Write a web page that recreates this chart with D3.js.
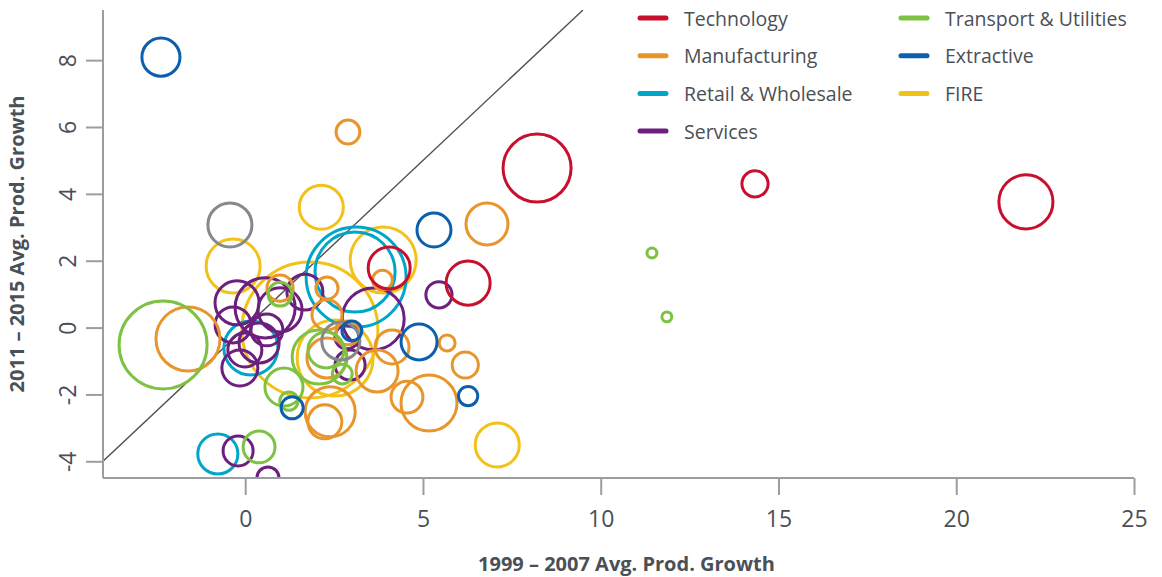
<!DOCTYPE html>
<html>
<head>
<meta charset="utf-8">
<title>Productivity growth by sector</title>
<script src="https://cdn.jsdelivr.net/npm/d3@7/dist/d3.min.js"></script>
<style>
  body { margin: 0; background: #fff; }
  svg { display: block; font-family: "Open Sans", Lato, sans-serif; }
  .tick text { fill: #4b4f56; }
</style>
</head>
<body>
<script>
// each entry: [1999-2007 growth, 2011-2015 growth, weight]
var technology = [[8.21, 4.77, 23.6], [14.34, 4.30, 3.5], [21.96, 3.76, 14.9], [6.27, 1.33, 9.9], [4.05, 1.78, 9.0]];
var manufacturing = [[2.89, 5.85, 2.9], [6.80, 3.10, 9.0], [-1.61, -0.34, 20.9], [3.86, 1.42, 2.0], [5.68, -0.46, 1.3],
  [6.19, -1.12, 3.5], [5.17, -2.26, 16.0], [4.55, -2.08, 5.2], [4.13, -0.58, 5.9], [3.71, -1.30, 9.0],
  [2.30, -0.91, 8.2], [2.39, -2.52, 12.8], [2.24, -2.82, 5.9], [0.98, 1.18, 3.5], [2.30, 1.18, 2.5],
  [2.30, 0.38, 4.6], [2.89, -0.16, 2.9]];
var retail = [[3.12, 1.51, 51.0], [3.09, 1.66, 32.7], [0.16, -0.61, 14.9], [-0.77, -3.78, 8.2]];
var services = [[-0.20, -3.69, 4.6], [0.64, -4.50, 2.5], [5.45, 0.98, 3.5], [3.60, 0.26, 19.6],
  [-0.23, 0.74, 9.9], [-0.34, 0.08, 6.6], [0.56, 0.59, 18.4], [0.61, -0.07, 5.2], [-0.15, -1.21, 6.6],
  [1.68, 1.06, 6.6], [0.39, -0.46, 8.2], [-0.01, -0.67, 5.9], [0.98, 0.53, 9.9], [2.95, -1.12, 4.6],
  [2.86, -0.28, 2.9]];
var transport = [[-2.31, -0.52, 39.5], [11.44, 2.23, 0.5], [11.86, 0.32, 0.5], [0.39, -3.57, 5.2],
  [1.09, -1.78, 7.4], [1.23, -2.20, 1.7], [0.98, 1.00, 2.9], [2.08, -0.88, 14.9], [2.27, -0.67, 6.6],
  [2.73, -1.39, 2.0]];
var extractive = [[-2.37, 8.09, 7.4], [5.31, 2.92, 5.9], [4.89, -0.43, 6.6], [6.27, -2.05, 1.9],
  [1.32, -2.40, 2.5], [3.00, -0.10, 2.0]];
var fire = [[2.14, 3.60, 9.9], [-0.34, 1.84, 14.9], [3.88, 2.02, 22.2], [7.09, -3.51, 9.9],
  [1.82, -0.07, 94.4], [2.53, -0.91, 29.5]];
var other = [[-0.43, 3.07, 9.9], [2.69, -0.40, 7.4]];

var xTicks = [0, 5, 10, 15, 20, 25];
var yTicks = [-4, -2, 0, 2, 4, 6, 8];
var legendNames = ["Technology", "Manufacturing", "Retail & Wholesale", "Services",
                   "Transport & Utilities", "Extractive", "FIRE"];

var colors = {
  "Technology": "#c8102e", "Manufacturing": "#e8952c", "Retail & Wholesale": "#00a6ca",
  "Services": "#6d1f7e", "Transport & Utilities": "#7dc242", "Extractive": "#0a5fae",
  "FIRE": "#f2c219", "Other": "#87888b"
};

var sectors = [
  {name: "FIRE", pts: fire},
  {name: "Retail & Wholesale", pts: retail},
  {name: "Services", pts: services},
  {name: "Manufacturing", pts: manufacturing},
  {name: "Transport & Utilities", pts: transport},
  {name: "Other", pts: other},
  {name: "Extractive", pts: extractive},
  {name: "Technology", pts: technology}
];

var W = 1162, H = 577;
var mLeft = 103, mRight = 1134, mTop = 10, mBottom = 478;

var svg = d3.select("body").append("svg").attr("width", W).attr("height", H);

var x = d3.scaleLinear().domain([-4, 25]).range([mLeft, mRight]);
var y = d3.scaleLinear().domain([-4.5, 9.5]).range([mBottom, mTop]);
var r = d3.scaleSqrt().domain([0, 100]).range([0, 70]);

svg.append("clipPath").attr("id", "plot")
  .append("rect").attr("x", mLeft).attr("y", mTop)
  .attr("width", mRight - mLeft).attr("height", mBottom - mTop);

// 45 degree line
svg.append("line")
  .attr("clip-path", "url(#plot)")
  .attr("x1", x(-4)).attr("y1", y(-4))
  .attr("x2", x(9.5)).attr("y2", y(9.5))
  .attr("stroke", "#4d4f53").attr("stroke-width", 1.4);

var bubbles = svg.append("g").attr("clip-path", "url(#plot)");
sectors.forEach(function(s) {
  bubbles.selectAll(null)
    .data(s.pts)
    .enter()
    .append("circle")
    .attr("cx", function(d) { return x(d[0]); })
    .attr("cy", function(d) { return y(d[1]); })
    .attr("r", function(d) { return r(d[2]); })
    .attr("fill", "none")
    .attr("stroke", colors[s.name])
    .attr("stroke-width", 3);
});

// axes (plain hyphen for negatives, like the original)
var fmt = function(d) { return String(d); };
var xAxis = svg.append("g")
  .attr("transform", "translate(0," + mBottom + ")")
  .call(d3.axisBottom(x).tickValues(xTicks).tickFormat(fmt).tickSize(17).tickPadding(16).tickSizeOuter(0));
var yAxis = svg.append("g")
  .attr("transform", "translate(" + mLeft + ",0)")
  .call(d3.axisLeft(y).tickValues(yTicks).tickFormat(fmt).tickSize(17).tickSizeOuter(0));

[xAxis, yAxis].forEach(function(a) {
  a.select(".domain").attr("stroke", "#9b9da1").attr("stroke-width", 2);
  a.selectAll(".tick line").attr("stroke", "#9b9da1").attr("stroke-width", 2);
  a.selectAll(".tick text").attr("font-size", 23).attr("font-family", "'Open Sans', sans-serif");
});
yAxis.select(".domain").attr("d", "M0," + mTop + "V" + mBottom);
xAxis.select(".domain").attr("d", "M" + mLeft + ",0H" + mRight);

yAxis.selectAll(".tick text")
  .attr("x", 0).attr("dy", null)
  .attr("text-anchor", "middle")
  .attr("dominant-baseline", "central")
  .attr("transform", "translate(-36,0) rotate(-90)");

svg.append("text")
  .attr("x", (mLeft + mRight) / 2 + 8).attr("y", 571)
  .attr("text-anchor", "middle")
  .attr("font-size", 20).attr("font-weight", "bold")
  .attr("fill", "#4b4f56")
  .text("1999 \u2013 2007 Avg. Prod. Growth");

svg.append("text")
  .attr("transform", "translate(24," + (mTop + mBottom) / 2 + ") rotate(-90)")
  .attr("text-anchor", "middle")
  .attr("font-size", 20).attr("font-weight", "bold")
  .attr("fill", "#4b4f56")
  .text("2011 \u2013 2015 Avg. Prod. Growth");

// legend
var legend = svg.append("g");
var items = legend.selectAll("g")
  .data(legendNames)
  .enter()
  .append("g")
  .attr("transform", function(d, i) {
    var col = i < 4 ? 0 : 1, row = i < 4 ? i : i - 4;
    return "translate(" + (640 + col * 261) + "," + (18 + row * 37.7) + ")";
  });
items.append("line")
  .attr("x1", 0).attr("x2", 26)
  .attr("stroke", function(d) { return colors[d]; })
  .attr("stroke-width", 5).attr("stroke-linecap", "round");
items.append("text")
  .attr("x", 44).attr("dominant-baseline", "central")
  .attr("font-size", 19.5).attr("fill", "#4b4f56")
  .text(function(d) { return d; });
</script>
</body>
</html>
